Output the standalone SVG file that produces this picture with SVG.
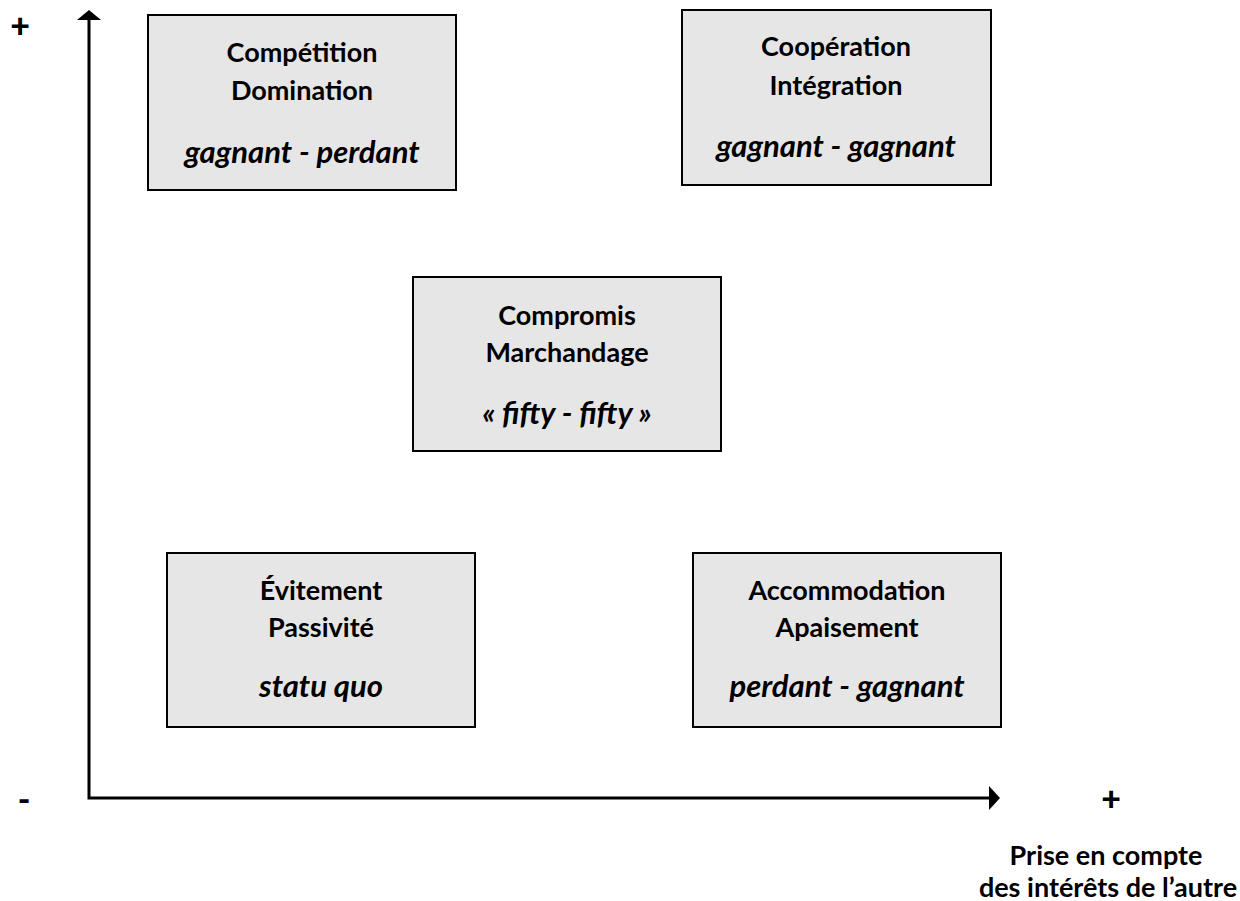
<svg xmlns="http://www.w3.org/2000/svg" width="1240" height="901" viewBox="0 0 1240 901">
<style>
.box{fill:#e6e6e6;stroke:#000;stroke-width:2}
.b{font-family:Lato,"Open Sans","Liberation Sans",sans-serif;font-weight:bold;font-size:27px;text-anchor:middle;fill:#000}
.i{font-family:Lato,"Open Sans","Liberation Sans",sans-serif;font-weight:bold;font-style:italic;font-size:31px;text-anchor:middle;fill:#000}
.s{font-family:Lato,"Open Sans","Liberation Sans",sans-serif;font-weight:900;font-size:34px;text-anchor:middle;fill:#000}
.ax{stroke:#000;stroke-width:3;fill:none}
</style>
<rect width="1240" height="901" fill="#fff"/>
<g id="connectors">
<path class="ax" d="M89,19 V798 H991"/>
<polygon points="89,10 77,20 101,20" fill="#000"/>
<polygon points="1000,798 989,786 989,810" fill="#000"/>
</g>
<g id="labels">
<text class="s" x="20" y="38">+</text>
<text class="s" x="24" y="811">-</text>
<text class="s" x="1111" y="811">+</text>
<text class="b" x="1106" y="865">Prise en compte</text>
<text class="b" x="1108" y="897">des intérêts de l’autre</text>
</g>
<g id="competition">
<rect class="box" x="148" y="15" width="308" height="175"/>
<text class="b" x="302" y="62">Compétition</text>
<text class="b" x="302" y="100">Domination</text>
<text class="i" x="302" y="163">gagnant - perdant</text>
</g>
<g id="cooperation">
<rect class="box" x="682" y="10" width="309" height="175"/>
<text class="b" x="836" y="56">Coopération</text>
<text class="b" x="836" y="95">Intégration</text>
<text class="i" x="836" y="157">gagnant - gagnant</text>
</g>
<g id="compromis">
<rect class="box" x="413" y="277" width="308" height="174"/>
<text class="b" x="567" y="325">Compromis</text>
<text class="b" x="567" y="362">Marchandage</text>
<text class="i" x="567" y="424">« fifty - fifty »</text>
</g>
<g id="evitement">
<rect class="box" x="167" y="553" width="308" height="174"/>
<text class="b" x="321" y="600">Évitement</text>
<text class="b" x="321" y="637">Passivité</text>
<text class="i" x="321" y="697">statu quo</text>
</g>
<g id="accommodation">
<rect class="box" x="693" y="553" width="308" height="174"/>
<text class="b" x="847" y="600">Accommodation</text>
<text class="b" x="847" y="637">Apaisement</text>
<text class="i" x="847" y="697">perdant - gagnant</text>
</g>
</svg>
